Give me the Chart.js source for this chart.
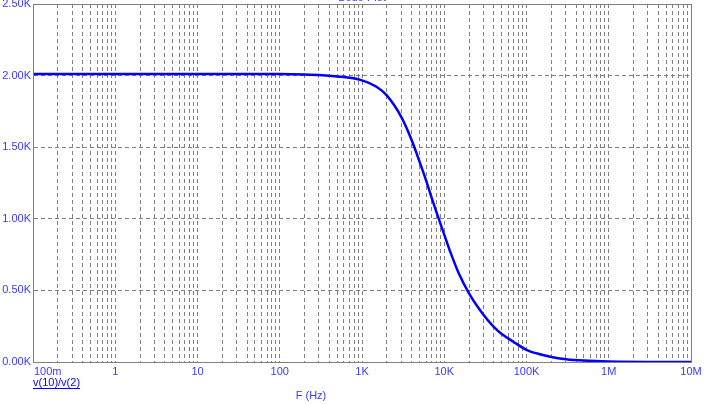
<!DOCTYPE html>
<html>
<head>
<meta charset="utf-8">
<script src="https://cdn.jsdelivr.net/npm/chart.js@4"></script>
<style>
  html, body { margin: 0; padding: 0; background: #fff; }
  #wrap { width: 705px; height: 404px; }
</style>
</head>
<body>
<div id="wrap"><canvas id="bodeChart" width="705" height="404"></canvas></div>
<script>
/* Data */
const freqs = [0.1, 1, 10, 100, 200, 500, 1000, 1500, 2000, 3000, 4000, 5000, 6000, 7000, 8000,
  10000, 12000, 15000, 20000, 30000, 40000, 50000, 70000, 100000, 150000, 200000, 300000,
  500000, 1000000, 10000000];
const gain = [2012, 2012, 2012, 2011, 2007, 1994, 1967, 1922, 1862, 1712, 1552, 1400, 1270, 1150, 1050,
  890, 760, 620, 480, 330, 245, 195, 140, 85, 52, 35, 20,
  10, 4, 0];
const xTickLabels = ['100m', '1', '10', '100', '1K', '10K', '100K', '1M', '10M'];
const yTicks = [0, 500, 1000, 1500, 2000, 2500];

const textBlue = '#3a3aff';
const gridGray = '#808080';
const font = '11px "Liberation Sans", Arial, sans-serif';

/* Frame, x labels, axis caption, trace label */
const decor = {
  id: 'decor',
  afterDraw(chart) {
    const ctx = chart.ctx;
    const a = chart.chartArea;
    const xs = chart.scales.x;
    ctx.save();
    ctx.strokeStyle = gridGray;
    ctx.lineWidth = 1;
    ctx.strokeRect(a.left + 0.5, a.top + 0.5, a.right - a.left, a.bottom - a.top);

    ctx.font = font;
    ctx.fillStyle = textBlue;
    ctx.textBaseline = 'middle';
    xTickLabels.forEach((lab, i) => {
      const px = xs.getPixelForValue(Math.pow(10, i - 1));
      ctx.textAlign = i === 0 ? 'left' : 'center';
      ctx.fillText(lab, i === 0 ? px + 1 : px, a.bottom + 10);
    });

    ctx.textAlign = 'center';
    ctx.fillText('F (Hz)', 311, 396);

    // title, mostly above the visible area
    ctx.textBaseline = 'alphabetic';
    ctx.fillText('Bode Plot', 362, 1);

    ctx.textBaseline = 'middle';
    ctx.textAlign = 'left';
    ctx.fillStyle = '#0000ff';
    ctx.fillText('v(10)/v(2)', a.left, 383);
    const w = ctx.measureText('v(10)/v(2)').width;
    ctx.strokeStyle = '#0000ff';
    ctx.beginPath();
    ctx.moveTo(a.left, 388.5);
    ctx.lineTo(a.left + w, 388.5);
    ctx.stroke();
    ctx.restore();
  }
};

new Chart(document.getElementById('bodeChart'), {
  type: 'line',
  data: {
    datasets: [{
      data: freqs.map((f, i) => ({ x: f, y: gain[i] })),
      borderColor: '#0000ff',
      borderWidth: 2.5,
      pointRadius: 0,
      cubicInterpolationMode: 'monotone',
      fill: false
    }]
  },
  options: {
    responsive: false,
    animation: false,
    layout: { padding: { top: 0, right: 14, left: 0, bottom: 0 } },
    plugins: { legend: { display: false }, tooltip: { enabled: false } },
    scales: {
      x: {
        type: 'logarithmic',
        min: 0.1,
        max: 10000000,
        afterBuildTicks(scale) {
          const t = [];
          for (let e = -1; e < 7; e++) {
            for (let m = 1; m < 10; m++) t.push({ value: m * Math.pow(10, e) });
          }
          t.push({ value: 1e7 });
          scale.ticks = t;
        },
        afterFit(scale) { scale.height = 42; },
        ticks: { display: false, autoSkip: false },
        grid: { color: gridGray, lineWidth: 1, drawTicks: false, tickLength: 0 },
        border: { display: true, color: gridGray, width: 1, dash: [4, 3] }
      },
      y: {
        min: 0,
        max: 2500,
        afterBuildTicks(scale) { scale.ticks = yTicks.map(v => ({ value: v })); },
        afterFit(scale) {
          scale.width = 33;
          scale.paddingTop = 4;
          scale.paddingBottom = 0;
        },
        ticks: {
          color: textBlue,
          font: { family: '"Liberation Sans", Arial, sans-serif', size: 11 },
          padding: 2,
          callback: v => (v / 1000).toFixed(2) + 'K'
        },
        grid: { color: gridGray, lineWidth: 1, drawTicks: false, tickLength: 0 },
        border: { display: true, color: gridGray, width: 1, dash: [4, 3] }
      }
    }
  },
  plugins: [decor]
});
</script>
</body>
</html>
